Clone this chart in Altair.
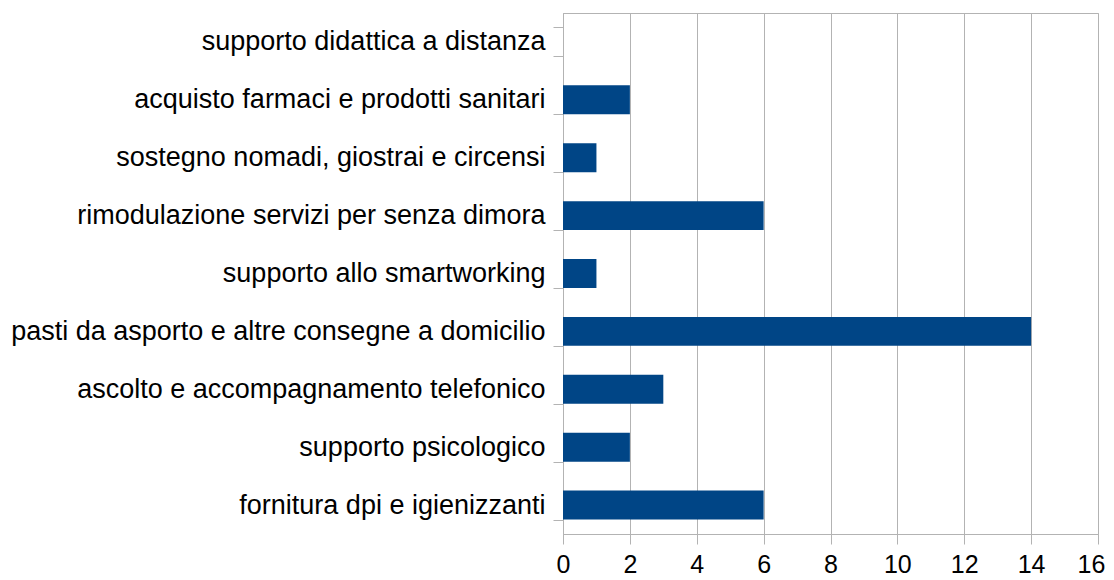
import altair as alt
import pandas as pd

categories = [
    "supporto didattica a distanza",
    "acquisto farmaci e prodotti sanitari",
    "sostegno nomadi, giostrai e circensi",
    "rimodulazione servizi per senza dimora",
    "supporto allo smartworking",
    "pasti da asporto e altre consegne a domicilio",
    "ascolto e accompagnamento telefonico",
    "supporto psicologico",
    "fornitura dpi e igienizzanti",
]
values = [0, 2, 1, 6, 1, 14, 3, 2, 6]
x_ticks = [0, 2, 4, 6, 8, 10, 12, 14, 16]

df = pd.DataFrame({"cat": categories, "val": values})

grid = "#b3b3b3"
font = "Liberation Sans"

chart = alt.Chart(df).mark_bar(color="#004586").encode(
    x=alt.X("val:Q", scale=alt.Scale(domain=[0, 16], nice=False),
            axis=alt.Axis(values=x_ticks, title=None, grid=True, gridColor=grid,
                          domainColor=grid, tickColor=grid, tickSize=10,
                          labelFontSize=25, labelFont=font, labelColor="#000000",
                          labelPadding=8, labelFlush=False,
                          labelOffset={"condition": {"test": "datum.value == 16", "value": -7},
                                       "value": 0})),
    y=alt.Y("cat:N", sort=categories,
            scale=alt.Scale(paddingInner=0.5, paddingOuter=0.25),
            axis=alt.Axis(title=None, tickBand="extent", domainColor=grid,
                          tickColor=grid, tickSize=10, labelFontSize=27,
                          labelFont=font, labelColor="#000000", labelPadding=8,
                          labelLimit=600)),
).properties(
    width=535, height=521,
    autosize=alt.AutoSizeParams(type="none"),
    padding={"left": 555, "top": 5, "right": 8, "bottom": 42},
).configure_view(stroke=grid)

chart.save("out.html", embed_options={"renderer": "svg", "actions": False})
